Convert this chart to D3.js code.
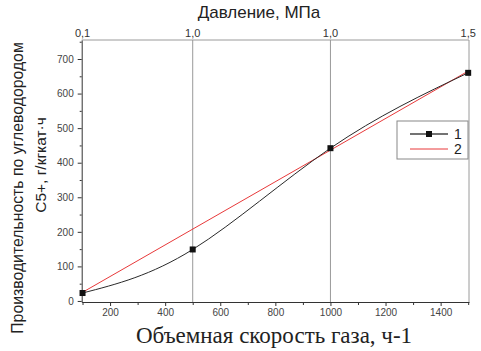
<!DOCTYPE html>
<html>
<head>
<meta charset="utf-8">
<script src="https://cdn.jsdelivr.net/npm/d3@7"></script>
<style>
  body { margin: 0; background: #fff; }
  text { font-family: "Liberation Sans", Arial, sans-serif; }
</style>
</head>
<body>
<div id="chart"></div>
<script>
// data
const series1X = [100, 500, 1000, 1500];
const series1Y = [23, 149, 442, 660];
const series2X = [100, 1500];
const series2Y = [25, 665];
const xTicks = [200, 400, 600, 800, 1000, 1200, 1400];
const yTicks = [0, 100, 200, 300, 400, 500, 600, 700];
const topTickPos = [100, 500, 1000, 1500];
const topTickLabels = ["0,1", "1,0", "1,0", "1,5"];
const gridX = [500, 1000];
const legendNames = ["1", "2"];

const width = 481, height = 351;
const plot = { left: 81.7, right: 469, top: 40, bottom: 302 };

const svg = d3.select("#chart").append("svg")
    .attr("width", width)
    .attr("height", height);

const x = d3.scaleLinear().domain([97, 1503]).range([plot.left, plot.right]);
const y = d3.scaleLinear().domain([-3, 755]).range([plot.bottom, plot.top]);

// vertical grid lines at pressure steps
svg.selectAll(".grid")
    .data(gridX)
    .enter()
    .append("line")
    .attr("x1", d => x(d)).attr("x2", d => x(d))
    .attr("y1", plot.top).attr("y2", plot.bottom)
    .attr("stroke", "#9a9a9a")
    .attr("stroke-width", 1);

// top and right frame
svg.append("line")
    .attr("x1", plot.left).attr("x2", plot.right)
    .attr("y1", plot.top).attr("y2", plot.top)
    .attr("stroke", "#9a9a9a");
svg.append("line")
    .attr("x1", plot.right).attr("x2", plot.right)
    .attr("y1", plot.top).attr("y2", plot.bottom)
    .attr("stroke", "#9a9a9a");

// bottom axis
const xAxis = d3.axisBottom(x).tickValues(xTicks).tickSize(4).tickPadding(3)
    .tickSizeOuter(0).tickFormat(d3.format("d"));
const gx = svg.append("g")
    .attr("transform", `translate(0,${plot.bottom})`)
    .call(xAxis);
gx.select(".domain").attr("stroke", "#333");
gx.selectAll(".tick line").attr("stroke", "#333");
gx.selectAll("text").style("font-size", "10px").attr("fill", "#444");
svg.append("g")
    .attr("transform", `translate(0,${plot.bottom})`)
    .call(d3.axisBottom(x).tickValues(d3.range(100, 1501, 200)).tickSize(3).tickFormat("").tickSizeOuter(0))
    .call(g => g.select(".domain").remove())
    .selectAll("line").attr("stroke", "#333");

// left axis
const yAxis = d3.axisLeft(y).tickValues(yTicks).tickSize(4).tickPadding(4).tickSizeOuter(0);
const gy = svg.append("g")
    .attr("transform", `translate(${plot.left},0)`)
    .call(yAxis);
gy.select(".domain").attr("stroke", "#333");
gy.selectAll(".tick line").attr("stroke", "#333");
gy.selectAll("text").style("font-size", "10px").attr("fill", "#444");
svg.append("g")
    .attr("transform", `translate(${plot.left},0)`)
    .call(d3.axisLeft(y).tickValues(d3.range(50, 751, 100)).tickSize(2).tickFormat("").tickSizeOuter(0))
    .call(g => g.select(".domain").remove())
    .selectAll("line").attr("stroke", "#333");

// top pressure labels
svg.selectAll(".top-label")
    .data(topTickPos)
    .enter()
    .append("text")
    .attr("x", d => x(d))
    .attr("y", plot.top - 3)
    .attr("text-anchor", "middle")
    .style("font-size", "11px")
    .attr("fill", "#333")
    .text((d, i) => topTickLabels[i]);

// series 2 (red line)
const pts2 = series2X.map((d, i) => [d, series2Y[i]]);
svg.append("path")
    .attr("d", d3.line().x(d => x(d[0])).y(d => y(d[1]))(pts2))
    .attr("fill", "none")
    .attr("stroke", "#e8393a")
    .attr("stroke-width", 1);

// series 1 (smoothed black curve with square markers)
const pts1 = series1X.map((d, i) => [d, series1Y[i]]);
svg.append("path")
    .attr("d", d3.line().curve(d3.curveNatural).x(d => x(d[0])).y(d => y(d[1]))(pts1))
    .attr("fill", "none")
    .attr("stroke", "#2a2a2a")
    .attr("stroke-width", 1);
svg.selectAll(".marker")
    .data(pts1)
    .enter()
    .append("rect")
    .attr("x", d => x(d[0]) - 3)
    .attr("y", d => y(d[1]) - 3)
    .attr("width", 6)
    .attr("height", 6)
    .attr("fill", "#111");

// legend
const lg = svg.append("g").attr("transform", "translate(397,121)");
lg.append("rect")
    .attr("width", 71).attr("height", 38)
    .attr("fill", "#fff")
    .attr("stroke", "#888");
lg.append("line").attr("x1", 13).attr("x2", 51).attr("y1", 13).attr("y2", 13)
    .attr("stroke", "#444").attr("stroke-width", 1.5);
lg.append("rect").attr("x", 29).attr("y", 10).attr("width", 6).attr("height", 6).attr("fill", "#111");
lg.append("line").attr("x1", 13).attr("x2", 51).attr("y1", 28).attr("y2", 28)
    .attr("stroke", "#e8393a").attr("stroke-width", 1);
lg.selectAll(".lt")
    .data(legendNames)
    .enter()
    .append("text")
    .attr("x", 57)
    .attr("y", (d, i) => 13 + i * 15)
    .attr("dy", "0.36em")
    .style("font-size", "14px")
    .attr("fill", "#222")
    .text(d => d);

// titles
svg.append("text")
    .attr("x", 259).attr("y", 18)
    .attr("text-anchor", "middle")
    .style("font-size", "17px")
    .attr("fill", "#222")
    .text("Давление, МПа");

svg.append("text")
    .attr("x", 274).attr("y", 343)
    .attr("text-anchor", "middle")
    .style("font-family", "'Liberation Serif', 'Times New Roman', serif")
    .style("font-size", "23px")
    .attr("fill", "#222")
    .text("Объемная скорость газа, ч-1");

svg.append("text")
    .attr("transform", "translate(23,188) rotate(-90)")
    .attr("text-anchor", "middle")
    .style("font-size", "15.8px")
    .attr("fill", "#222")
    .text("Производительность  по углеводородом");

svg.append("text")
    .attr("transform", "translate(46,165) rotate(-90)")
    .attr("text-anchor", "middle")
    .style("font-size", "15.5px")
    .attr("fill", "#222")
    .text("C5+,  г/кгкат·ч");
</script>
</body>
</html>
